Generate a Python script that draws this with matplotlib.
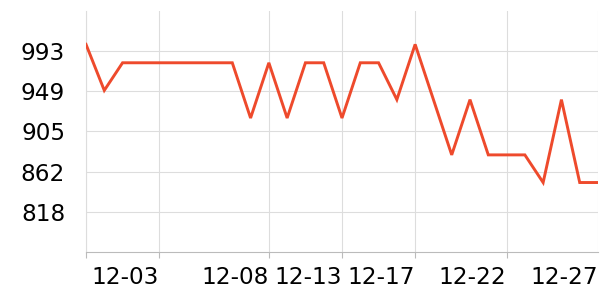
import numpy as np
import matplotlib
matplotlib.use("Agg")
import matplotlib.pyplot as plt

# values per point (category axis, evenly spaced)
values = [1000, 950, 980, 980, 980, 980, 980, 980, 980, 920, 980, 920, 980, 980,
          920, 980, 980, 940, 1000, 940, 880, 940, 880, 880, 880, 850, 940, 850, 850]
tick_idx = [0, 4, 10, 14, 18, 23, 28]
tick_labels = ["", "12-03", "12-08", "12-13", "12-17", "12-22", "12-27"]
y_ticks = [818, 861.75, 905.5, 949.25, 993]
y_labels = ["818", "862", "905", "949", "993"]
y_min, y_max = 774.25, 1036.75

fig = plt.figure(figsize=(6, 3), dpi=100)
ax = fig.add_axes([86 / 600, 1 - 252.3 / 300, 512 / 600, (252.3 - 10.5) / 300])
x = np.arange(len(values))
ax.plot(x, values, color="#ee4a2c", linewidth=2.1, solid_joinstyle="miter", zorder=3)

ax.set_xlim(0, len(values) - 1)
ax.set_ylim(y_min, y_max)
ax.set_xticks(tick_idx)
ax.set_xticklabels(tick_labels, ha="right", fontsize=16.7)
ax.set_yticks(y_ticks)
ax.set_yticklabels(y_labels, fontsize=16.7)
ax.tick_params(axis="y", length=0, pad=15)
ax.tick_params(axis="x", length=4, color="#bbbbbb", pad=6)
ax.xaxis.get_major_ticks()[-1].tick1line.set_visible(False)
ax.grid(True, color="#dddddd", linewidth=0.8)
ax.set_axisbelow(True)
for s in ["top", "right"]:
    ax.spines[s].set_visible(False)
ax.spines["left"].set_color("#dddddd")
ax.spines["left"].set_linewidth(0.8)
ax.spines["bottom"].set_color("#bbbbbb")
ax.spines["bottom"].set_linewidth(0.8)

fig.savefig("out.png", dpi=100)
